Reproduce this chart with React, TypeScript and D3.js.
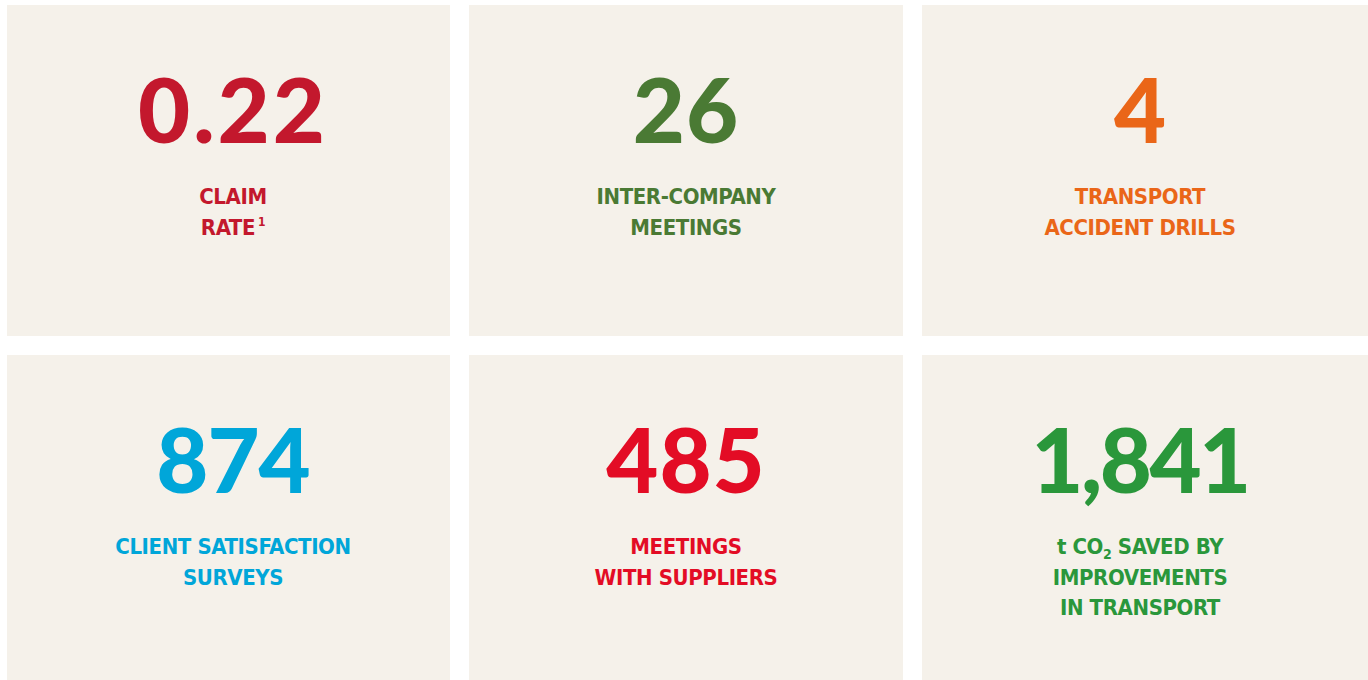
import React from "react";
import * as d3 from "d3";

const values = [0.22, 26, 4, 874, 485, 1841];
const labelLines = [
  ["CLAIM", "RATE"],
  ["INTER-COMPANY", "MEETINGS"],
  ["TRANSPORT", "ACCIDENT DRILLS"],
  ["CLIENT SATISFACTION", "SURVEYS"],
  ["MEETINGS", "WITH SUPPLIERS"],
  ["t CO", "IMPROVEMENTS", "IN TRANSPORT"],
];
const colors = ["#c3182d", "#4a7a34", "#ea6618", "#00a6d9", "#e30c25", "#2a973b"];

const W = 1368;
const H = 680;
const colX = [7, 469, 922];
const colW = [443, 434, 446];
const colCenter = [233, 686, 1140];
const rowY = [5, 355];
const rowH = [331, 325];
const numSpacing = [3, 1, 0, -1, 1, -2.5];

export default function App() {
  const fmt = d3.format(",");
  return (
    <svg width={W} height={H} style={{ position: "absolute", left: 0, top: 0, background: "#ffffff" }}>
      {values.map((v, i) => {
        const c = i % 3;
        const r = Math.floor(i / 3);
        const x0 = colX[c];
        const y0 = rowY[r];
        const cx = colCenter[c];
        const col = colors[i];
        const lines = labelLines[i];
        return (
          <g key={i}>
            <rect x={x0} y={y0} width={colW[c]} height={rowH[r]} fill="#f5f1ea" />
            <text
              x={cx}
              y={y0 + 138}
              textAnchor="middle"
              fill={col}
              style={{
                fontFamily: "Lato, 'Open Sans', sans-serif",
                fontWeight: 900,
                fontSize: 90,
                letterSpacing: numSpacing[i],
              }}
            >
              {fmt(v)}
            </text>
            {lines.map((ln, j) => (
              <text
                key={j}
                x={cx}
                y={y0 + 199 + j * 30.5}
                textAnchor="middle"
                fill={col}
                style={{
                  fontFamily: "'DejaVu Sans Condensed', sans-serif",
                  fontWeight: 700,
                  fontSize: 22,
                  fontStretch: "condensed",
                  letterSpacing: -0.4,
                }}
              >
                {i === 5 && j === 0 ? (
                  <>
                    {ln}
                    <tspan fontSize={14} dy={5}>2</tspan>
                    <tspan dy={-5}> SAVED BY</tspan>
                  </>
                ) : i === 0 && j === 1 ? (
                  <>
                    {ln}
                    <tspan fontSize={12} dy={-9} dx={3}>1</tspan>
                  </>
                ) : (
                  ln
                )}
              </text>
            ))}
          </g>
        );
      })}
    </svg>
  );
}
